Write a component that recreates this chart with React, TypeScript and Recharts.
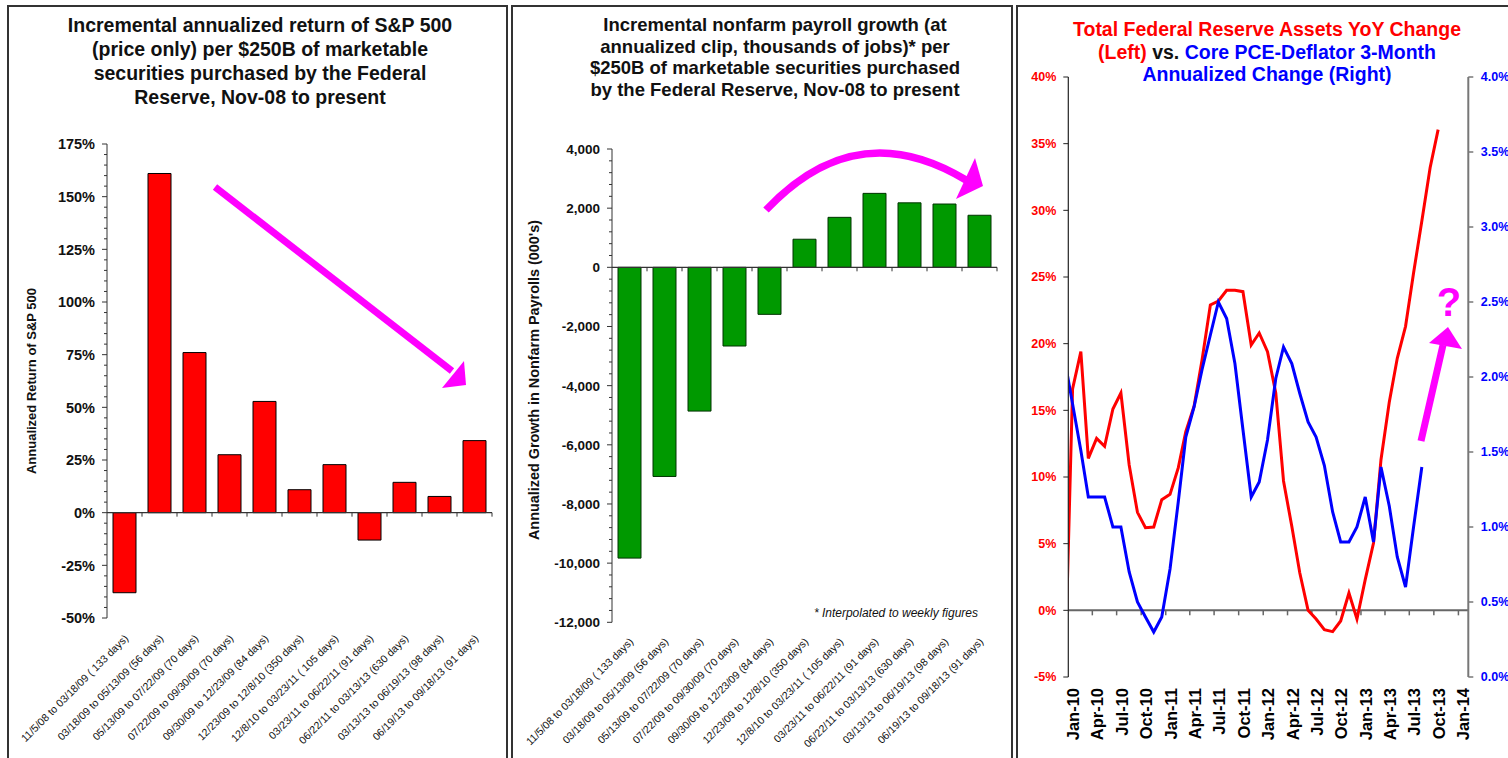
import React from "react";
import { BarChart, Bar, XAxis, YAxis, LineChart, Line, ReferenceLine } from "recharts";

const FONT = '"Liberation Sans", Arial, Helvetica, sans-serif';
const MAGENTA = "#ff00ff";

// QE windows shared by the two bar charts
const periods = [
  "11/5/08 to 03/18/09 ( 133 days)",
  "03/18/09 to 05/13/09 (56 days)",
  "05/13/09 to 07/22/09 (70 days)",
  "07/22/09 to 09/30/09 (70 days)",
  "09/30/09 to 12/23/09 (84 days)",
  "12/23/09 to 12/8/10 (350 days)",
  "12/8/10 to 03/23/11 ( 105 days)",
  "03/23/11 to 06/22/11 (91 days)",
  "06/22/11 to 03/13/13 (630 days)",
  "03/13/13 to 06/19/13 (98 days)",
  "06/19/13 to 09/18/13 (91 days)",
];

// annualized S&P 500 return (%) per $250B
const spReturn = [-38, 161, 76, 27.5, 52.8, 10.9, 22.8, -13, 14.4, 7.7, 34.2];
// annualized nonfarm payroll growth (000's) per $250B
const payrollGrowth = [-9830, -7070, -4860, -2660, -1590, 950, 1690, 2500, 2180, 2140, 1760];

// monthly series, first observation Dec-09
const seriesStart = { year: 2009, month: 11 };
const fedAssetsYoY = [
  -6.7, 16.6, 19.4, 11.4, 12.9, 12.3, 15.1, 16.3, 10.9, 7.35, 6.2, 6.25, 8.3,
  8.7, 10.7, 13.4, 15.3, 18.8, 22.9, 23.2, 24.0, 24.0, 23.9, 19.9, 20.8,
  19.4, 16.3, 9.7, 6.3, 2.8, 0.0, -0.65, -1.45, -1.6, -0.8, 1.3, -0.65,
  2.3, 5.05, 11.3, 15.6, 18.9, 21.3, 25.3, 29.2, 33.2, 36.05,
];
const corePce3m = [
  2.13, 1.82, 1.51, 1.2, 1.2, 1.2, 1.0, 1.0, 0.7, 0.5, 0.4, 0.3, 0.4,
  0.72, 1.17, 1.6, 1.8, 2.05, 2.28, 2.5, 2.39, 2.09, 1.65, 1.2, 1.3,
  1.58, 1.99, 2.2, 2.09, 1.89, 1.7, 1.6, 1.41, 1.1, 0.9, 0.9, 1.0,
  1.2, 0.9, 1.4, 1.14, 0.8, 0.6, 1.0, 1.4,
];
const quarterLabels = [
  "Jan-10", "Apr-10", "Jul-10", "Oct-10", "Jan-11", "Apr-11", "Jul-11", "Oct-11",
  "Jan-12", "Apr-12", "Jul-12", "Oct-12", "Jan-13", "Apr-13", "Jul-13", "Oct-13", "Jan-14",
];
const leftTicks = [-5, 0, 5, 10, 15, 20, 25, 30, 35, 40];
const rightTicks = [0, 0.5, 1, 1.5, 2, 2.5, 3, 3.5, 4];

const MONTHS = ["Jan", "Feb", "Mar", "Apr", "May", "Jun", "Jul", "Aug", "Sep", "Oct", "Nov", "Dec"];
const labelToTime = (s: string) => {
  const [m, y] = s.split("-");
  return Date.UTC(2000 + Number(y), MONTHS.indexOf(m), 1);
};
const quarterTicks = quarterLabels.map(labelToTime);
const X_MIN = Date.UTC(2010, 0, 1);
const X_MAX = Date.UTC(2014, 1, 7);

const monthly = (vals: number[]) =>
  vals.map((v, i) => ({ t: Date.UTC(seriesStart.year, seriesStart.month + i, 17), v }));
const fedData = monthly(fedAssetsYoY);
const pceData = monthly(corePce3m);

const spData = periods.map((p, i) => ({ period: p, v: spReturn[i] }));
const payData = periods.map((p, i) => ({ period: p, v: payrollGrowth[i] }));

const steps = (lo: number, hi: number, step: number) => {
  const out: number[] = [];
  for (let v = lo; v <= hi + 1e-9; v += step) out.push(Math.round(v * 100) / 100);
  return out;
};

// y axis ticks with minor marks, labels only on majors
const makeYTick = (major: number, fmt: (v: number) => string, fontSize: number) => (p: any) => {
  const v = p.payload.value;
  const isMajor = Math.abs(v % major) < 1e-6;
  return (
    <g>
      <line x1={p.x - (isMajor ? 5 : 3)} x2={p.x} y1={p.y} y2={p.y} stroke="#333" />
      {isMajor && (
        <text x={p.x - 12} y={p.y} dy="0.36em" textAnchor="end" fontFamily={FONT}
          fontWeight="bold" fontSize={fontSize} fill="#111">
          {fmt(v)}
        </text>
      )}
    </g>
  );
};

const makePeriodTick = (dy: number) => (p: any) => {
  const px = p.x + 4.5;
  const py = p.y + dy;
  return (
    <text x={px} y={py} transform={`rotate(-45 ${px} ${py})`} textAnchor="end"
      fontFamily={FONT} fontSize={10.6} fill="#111">
      {p.payload.value}
    </text>
  );
};

// zero line acting as the category axis, with marks between categories
const makeZeroAxis = (count: number) => (p: any) => {
  const { x1, x2, y1 } = p;
  const marks = [];
  for (let k = 1; k <= count; k++) {
    const x = x1 + ((x2 - x1) * k) / count;
    marks.push(<line key={k} x1={x} x2={x} y1={y1} y2={y1 + 4} stroke="#333" />);
  }
  return (
    <g>
      <line x1={x1} x2={x2} y1={y1} y2={y1} stroke="#333" strokeWidth={1.2} />
      {marks}
    </g>
  );
};

const DateZeroAxis = (p: any) => {
  const { x1, x2, y1 } = p;
  return (
    <g>
      <line x1={x1} x2={x2} y1={y1} y2={y1} stroke="#666" strokeWidth={2} />
      {quarterTicks.slice(1).map((t) => {
        const x = x1 + ((x2 - x1) * (t - X_MIN)) / (X_MAX - X_MIN);
        return <line key={t} x1={x} x2={x} y1={y1} y2={y1 + 5} stroke="#666" strokeWidth={1.5} />;
      })}
    </g>
  );
};

const DateTick = (p: any) => {
  const idx = quarterTicks.indexOf(p.payload.value);
  const bx = p.x + 11;
  const by = p.y + 11;
  return (
    <text x={bx} y={by} transform={`rotate(-90 ${bx} ${by})`} textAnchor="end"
      fontFamily={FONT} fontWeight="bold" fontSize={16.5} fill="#000">
      {quarterLabels[idx]}
    </text>
  );
};

const frame = (left: number, width: number): React.CSSProperties => ({
  position: "absolute",
  left,
  top: 5,
  width,
  height: 800,
  border: "2px solid #333",
  boxSizing: "border-box",
});

const titleStyle = (left: number, top: number, size: number, lh: number): React.CSSProperties => ({
  position: "absolute",
  left,
  top,
  width: 500,
  textAlign: "center",
  fontFamily: FONT,
  fontWeight: "bold",
  fontSize: size,
  lineHeight: `${lh}px`,
  color: "#111",
});

export default function App() {
  return (
    <div style={{ position: "fixed", left: 0, top: 0, width: 1508, height: 758, overflow: "hidden", background: "#fff" }}>
      <div style={frame(7, 501)} />
      <div style={frame(511, 502)} />
      <div style={frame(1016, 500)} />

      <div style={titleStyle(10, 13, 19.5, 24)}>
        Incremental annualized return of S&amp;P 500<br />
        (price only) per $250B of marketable<br />
        securities purchased by the Federal<br />
        Reserve, Nov-08 to present
      </div>
      <div style={titleStyle(525, 14, 18.5, 21.7)}>
        Incremental nonfarm payroll growth (at<br />
        annualized clip, thousands of jobs)* per<br />
        $250B of marketable securities purchased<br />
        by the Federal Reserve, Nov-08 to present
      </div>
      <div style={titleStyle(1017, 18, 19.5, 22.5)}>
        <span style={{ color: "#ff0000" }}>Total Federal Reserve Assets YoY Change</span><br />
        <span style={{ color: "#ff0000" }}>(Left)</span> vs.{" "}
        <span style={{ color: "#0000ff" }}>Core PCE-Deflator 3-Month</span><br />
        <span style={{ color: "#0000ff" }}>Annualized Change (Right)</span>
      </div>

      {/* S&P 500 bars */}
      <div style={{ position: "absolute", left: 8, top: 120 }}>
        <BarChart width={497} height={638} data={spData} margin={{ top: 24, right: 13, bottom: 0, left: 0 }}>
          <XAxis dataKey="period" type="category" height={140} axisLine={false} tickLine={false}
            tickSize={0} tickMargin={0} interval={0} tick={makePeriodTick(21)} />
          <YAxis type="number" domain={[-50, 175]} ticks={steps(-50, 175, 5)} width={99} interval={0}
            allowDataOverflow axisLine={{ stroke: "#333" }} tickLine={false} tickSize={0} tickMargin={0}
            tick={makeYTick(25, (v) => `${v}%`, 14.5)} />
          <Bar dataKey="v" fill="#ff0000" stroke="#000" strokeWidth={1} barSize={23} isAnimationActive={false} />
          <ReferenceLine y={0} shape={makeZeroAxis(periods.length)} />
        </BarChart>
      </div>

      {/* payroll bars */}
      <div style={{ position: "absolute", left: 512, top: 120 }}>
        <BarChart width={497} height={638} data={payData} margin={{ top: 29, right: 12, bottom: 0, left: 0 }}>
          <XAxis dataKey="period" type="category" height={135.7} axisLine={false} tickLine={false}
            tickSize={0} tickMargin={0} interval={0} tick={makePeriodTick(20)} />
          <YAxis type="number" domain={[-12000, 4000]} ticks={steps(-12000, 4000, 400)} width={100} interval={0}
            allowDataOverflow axisLine={{ stroke: "#333" }} tickLine={false} tickSize={0} tickMargin={0}
            tick={makeYTick(2000, (v) => v.toLocaleString("en-US"), 13.5)} />
          <Bar dataKey="v" fill="#009900" stroke="#003300" strokeWidth={1} barSize={23} isAnimationActive={false} />
          <ReferenceLine y={0} shape={makeZeroAxis(periods.length)} />
        </BarChart>
      </div>

      {/* Fed assets vs core PCE */}
      <div style={{ position: "absolute", left: 1017, top: 60 }}>
        <LineChart width={491} height={698} margin={{ top: 17, right: 0, bottom: 0, left: 0 }}>
          <XAxis type="number" dataKey="t" domain={[X_MIN, X_MAX]} allowDataOverflow ticks={quarterTicks}
            interval={0} height={81} axisLine={false} tickLine={false} tickSize={0} tickMargin={0}
            tick={DateTick} />
          <YAxis yAxisId="left" type="number" domain={[-5, 40]} ticks={leftTicks} interval={0} width={51.3}
            allowDataOverflow axisLine={{ stroke: "#222", strokeWidth: 1.2 }} tickLine={{ stroke: "#222" }}
            tickSize={5} tickMargin={7} tickFormatter={(v) => `${v}%`}
            tick={{ fill: "#ff0000", fontSize: 12.5, fontWeight: "bold", fontFamily: FONT }} />
          <YAxis yAxisId="right" orientation="right" type="number" domain={[0, 4]} ticks={rightTicks}
            interval={0} width={39.7} allowDataOverflow axisLine={{ stroke: "#777", strokeWidth: 2 }}
            tickLine={{ stroke: "#777", strokeWidth: 1.5 }} tickSize={5} tickMargin={7.5}
            tickFormatter={(v) => `${v.toFixed(1)}%`}
            tick={{ fill: "#0000ff", fontSize: 12.5, fontWeight: "bold", fontFamily: FONT }} />
          <ReferenceLine yAxisId="left" y={0} shape={DateZeroAxis} />
          <Line yAxisId="left" data={fedData} dataKey="v" type="linear" stroke="#ff0000" strokeWidth={3}
            dot={false} isAnimationActive={false} />
          <Line yAxisId="right" data={pceData} dataKey="v" type="linear" stroke="#0000ff" strokeWidth={3}
            dot={false} isAnimationActive={false} />
        </LineChart>
      </div>

      {/* axis titles, footnote and annotations */}
      <svg width={1508} height={758} style={{ position: "absolute", left: 0, top: 0, pointerEvents: "none" }}>
        <text x={31} y={381} dy="0.35em" transform="rotate(-90 31 381)" textAnchor="middle"
          fontFamily={FONT} fontWeight="bold" fontSize={13} fill="#111">
          Annualized Return of S&amp;P 500
        </text>
        <text x={534} y={380} dy="0.35em" transform="rotate(-90 534 380)" textAnchor="middle"
          fontFamily={FONT} fontWeight="bold" fontSize={14.4} fill="#111">
          Annualized Growth in Nonfarm Payrolls (000's)
        </text>
        <text x={978} y={617} textAnchor="end" fontFamily={FONT} fontStyle="italic" fontSize={12} fill="#111">
          * Interpolated to weekly figures
        </text>

        <line x1={215} y1={187} x2={452} y2={371} stroke={MAGENTA} strokeWidth={7} />
        <polygon points="464,361 466,385 442,388" fill={MAGENTA} />

        <path d="M766,210 C815,158 880,128 966,180" fill="none" stroke={MAGENTA} strokeWidth={7.5} />
        <polygon points="975,158 983,186 956,199" fill={MAGENTA} />

        <line x1={1421} y1={441} x2={1443} y2={345} stroke={MAGENTA} strokeWidth={7} />
        <polygon points="1429,343 1448,327 1462,349" fill={MAGENTA} />
        <text x={1449} y={316} textAnchor="middle" fontFamily={FONT} fontWeight="bold" fontSize={40} fill={MAGENTA}>
          ?
        </text>
      </svg>
    </div>
  );
}
